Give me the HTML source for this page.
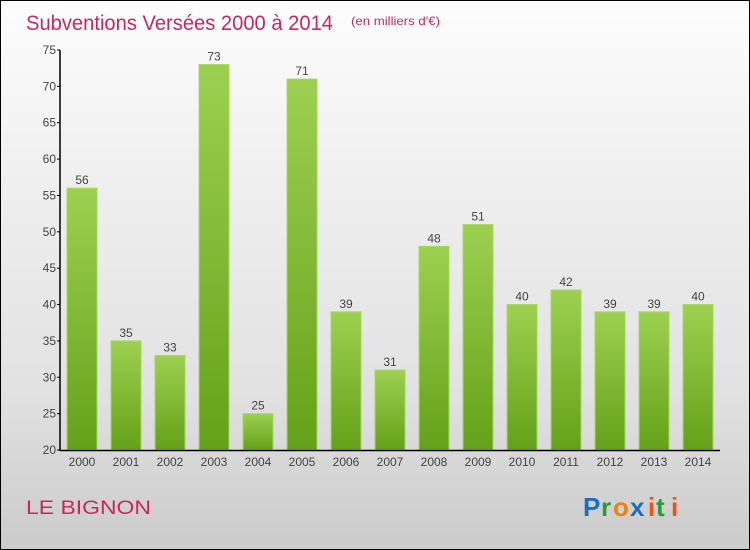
<!DOCTYPE html>
<html><head><meta charset="utf-8"><style>
body{margin:0;}
#c{width:750px;height:550px;position:relative;box-sizing:border-box;border:1px solid #000;background:linear-gradient(#fdfdfd,#f0f0f0 30%,#e2e2e2 70%,#cbcbcb);font-family:"Liberation Sans",sans-serif;overflow:hidden}
</style></head><body>
<div id="c">
<svg width="750" height="550" style="position:absolute;left:-1px;top:-1px">
<defs><linearGradient id="g" x1="0" y1="0" x2="0" y2="1"><stop offset="0" stop-color="#9dd050"/><stop offset="1" stop-color="#64a11a"/></linearGradient></defs>
<text x="26" y="30" font-size="21" fill="#c8285e" textLength="307" lengthAdjust="spacingAndGlyphs">Subventions Versées 2000 à 2014</text>
<text x="351" y="25" font-size="12" fill="#c8285e" textLength="89" lengthAdjust="spacingAndGlyphs">(en milliers d'€)</text>
<g id="bars"></g>
<g id="axes"></g>
<text x="26" y="514" font-size="19" fill="#c8285e" textLength="125" lengthAdjust="spacingAndGlyphs">LE BIGNON</text>
<g font-size="26" font-weight="bold">
<text x="583" y="516" fill="#1a6fc4">P</text><text x="601" y="516" fill="#2a9a3a">r</text><text x="613" y="516" fill="#f08010">o</text><text x="630" y="516" fill="#1a6fc4">x</text><text x="648" y="516" fill="#f05010">i</text><text x="656" y="516" fill="#2a9a3a">t</text><text x="671" y="516" fill="#f05010">i</text>
</g>
</svg>
</div>
<script>
const categories=["2000","2001","2002","2003","2004","2005","2006","2007","2008","2009","2010","2011","2012","2013","2014"];
const values=[56,35,33,73,25,71,39,31,48,51,40,42,39,39,40];
const yTicks=[20,25,30,35,40,45,50,55,60,65,70,75];
const NS="http://www.w3.org/2000/svg";
const y=v=>450-(v-20)*400/55;
const x=i=>82+i*44;
function mk(t,a,p){const e=document.createElementNS(NS,t);for(const k in a)e.setAttribute(k,a[k]);p.appendChild(e);return e;}
const bars=document.getElementById('bars'),axes=document.getElementById('axes');
values.forEach((v,i)=>{
 const r=mk('rect',{x:x(i)-15,y:y(v),width:30,height:450-y(v),fill:'url(#g)',stroke:'#a8d860','stroke-width':1},bars);
 
 
 const t=mk('text',{x:x(i),y:y(v)-4,'text-anchor':'middle','font-size':12,fill:'#444'},bars);
 t.textContent=v;
 
 
 const c=mk('text',{x:x(i),y:466,'text-anchor':'middle','font-size':12,fill:'#444'},axes);
 c.textContent=categories[i];
 
 
});
yTicks.forEach(v=>{
 mk('line',{x1:57,x2:60,y1:y(v),y2:y(v),stroke:'#000'},axes);
 const t=mk('text',{x:56,y:y(v)+4,'text-anchor':'end','font-size':12,fill:'#444'},axes);
 t.textContent=v;
 
 
});
const ya=mk('line',{x1:60,x2:60,y1:50,y2:451,stroke:'#000','stroke-width':1.5},axes);


const xa=mk('line',{x1:60,x2:720,y1:450.5,y2:450.5,stroke:'#000','stroke-width':1.5},axes);


</script>
</body></html>
